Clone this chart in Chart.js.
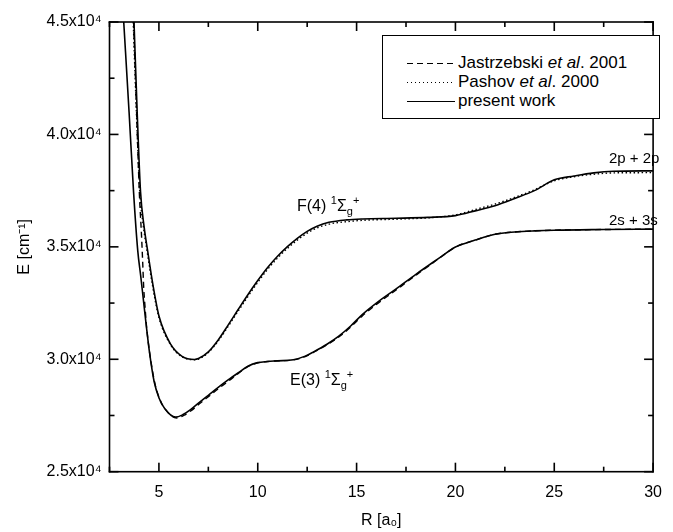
<!DOCTYPE html>
<html>
<head>
<meta charset="utf-8">
<script src="https://cdn.jsdelivr.net/npm/chart.js@4.4.1/dist/chart.umd.min.js"></script>
<style>
  body { margin: 0; background: #fff; font-family: "Liberation Sans", Arial, sans-serif; }
  #wrap { position: relative; width: 673px; height: 532px; }
  .lbl { position: absolute; font-size: 16px; color: #000; white-space: nowrap; line-height: 1; }
  .lbl sup { font-size: 11px; vertical-align: 7px; }
  .lbl sub { font-size: 11px; vertical-align: -4px; }
  #legend { position: absolute; left: 382px; top: 35px; width: 276px; height: 82px;
            border: 1px solid #000; background: #fff; font-size: 17px; }
  .row { position: absolute; left: 24px; height: 19px; line-height: 19px; white-space: nowrap; }
  .sample { display: inline-block; width: 48px; height: 1.5px; margin-right: 3px; vertical-align: middle; }
  .dash { background: repeating-linear-gradient(to right, #000 0 6px, transparent 6px 10px); }
  .dot { background: repeating-linear-gradient(to right, #000 0 1.5px, transparent 1.5px 4px); }
  .solid { background: #000; height: 1.7px; }
</style>
</head>
<body>
<div id="wrap">
  <canvas id="grafico" width="673" height="532"></canvas>
  <div id="legend">
    <div class="row" style="top:17px"><span class="sample dash"></span>Jastrzebski <i>et al</i>. 2001</div>
    <div class="row" style="top:36px"><span class="sample dot"></span>Pashov <i>et al</i>. 2000</div>
    <div class="row" style="top:55px"><span class="sample solid"></span>present work</div>
  </div>
  <div class="lbl" style="left:297px; top:195px">F(4) <sup>1</sup>&Sigma;<sub>g</sub><sup>+</sup></div>
  <div class="lbl" style="left:290px; top:369px">E(3) <sup>1</sup>&Sigma;<sub>g</sub><sup>+</sup></div>
  <div class="lbl" style="left:609px; top:150px; font-size:15px">2p + 2p</div>
  <div class="lbl" style="left:609px; top:212px; font-size:15px">2s + 3s</div>
</div>
<script>
// E(3) present work
const ePresentR = [3.22, 3.49, 3.72, 3.93, 4.08, 4.22, 4.36, 4.51, 4.76, 5.01, 5.3, 5.84, 6.2, 6.6, 7.0, 7.5, 8.0, 8.5, 9.0, 9.5, 10.0, 10.5, 11.0, 11.8, 12.4, 12.8, 13.5, 14.1, 14.7, 15.3, 16.0, 17.0, 18.0, 18.6, 19.3, 20.0, 21.0, 22.0, 23.0, 24.0, 25.0, 27.5, 30.0];
const ePresentE = [45000, 41000, 37400, 34820, 33700, 32600, 31500, 30400, 29000, 28270, 27800, 27425, 27530, 27760, 28050, 28400, 28750, 29080, 29390, 29690, 29850, 29900, 29930, 29980, 30140, 30320, 30670, 31030, 31480, 32000, 32500, 33130, 33780, 34150, 34580, 34990, 35300, 35560, 35660, 35710, 35740, 35770, 35790];
// E(3) Jastrzebski et al. 2001
const eJastR = [3.72, 3.87, 4.01, 4.12, 4.18, 4.23, 4.30, 4.38, 4.53, 4.79, 5.04, 5.33, 5.9, 6.25, 6.65, 7.05, 7.55, 8.05, 8.55, 9.0, 9.5, 10.0, 10.5, 11.0, 11.8, 12.4, 12.8, 13.5, 14.1, 14.7, 15.3, 16.0, 17.0, 18.0, 18.6, 19.3, 20.0, 21.0, 22.0, 23.0, 24.0, 25.0, 27.5, 30.0];
const eJastE = [45000, 41000, 37400, 35500, 34300, 33200, 32300, 31400, 30300, 28950, 28230, 27770, 27390, 27500, 27730, 28020, 28370, 28720, 29050, 29360, 29670, 29840, 29900, 29930, 29970, 30120, 30300, 30640, 30990, 31430, 31940, 32440, 33080, 33740, 34120, 34570, 34990, 35300, 35560, 35660, 35710, 35740, 35770, 35790];
// F(4) present work
const fPresentR = [3.74, 3.90, 4.07, 4.25, 4.43, 4.70, 5.01, 5.60, 6.17, 6.80, 7.0, 7.5, 8.0, 8.5, 9.0, 9.5, 10.0, 10.5, 11.0, 11.5, 12.0, 12.5, 13.0, 13.6, 14.5, 15.3, 17.0, 18.6, 20.0, 21.0, 22.0, 23.0, 24.0, 25.0, 26.0, 27.0, 28.0, 30.0];
const fPresentE = [45000, 41000, 37450, 35900, 34820, 33300, 31900, 30660, 30130, 29990, 30030, 30330, 30860, 31520, 32200, 32870, 33500, 34080, 34580, 35010, 35380, 35690, 35920, 36090, 36200, 36240, 36270, 36310, 36390, 36600, 36830, 37150, 37500, 37980, 38150, 38290, 38360, 38380];
// F(4) Pashov et al. 2000
const fPashovR = [3.70, 3.86, 4.03, 4.20, 4.40, 4.68, 5.0, 5.6, 6.17, 6.80, 7.0, 7.5, 8.0, 8.5, 9.0, 9.5, 10.0, 10.5, 11.0, 11.5, 12.0, 12.5, 13.0, 13.6, 14.5, 15.3, 17.0, 18.6, 20.0, 21.0, 22.0, 23.0, 24.0, 25.0, 26.0, 27.0, 28.0, 30.0];
const fPashovE = [45000, 41000, 37450, 36000, 34820, 33260, 31860, 30630, 30110, 29980, 30010, 30300, 30810, 31460, 32130, 32790, 33420, 34000, 34500, 34930, 35300, 35610, 35840, 36010, 36120, 36180, 36230, 36290, 36420, 36660, 36900, 37200, 37540, 37940, 38120, 38230, 38290, 38300];

const xMajor = 5, xMinor = 2.5;
const yMajor = 5000, yMinor = 2500;

const puntos = (rs, es) => rs.map((r, i) => ({ x: r, y: es[i] }));

function serie(label, data, dash, width) {
    return {
        label: label,
        data: data,
        borderColor: '#000',
        borderWidth: width,
        borderDash: dash,
        pointRadius: 0,
        fill: false,
        cubicInterpolationMode: 'monotone'
    };
}

const esMayor = (v, paso) => Math.abs(Math.round(v / paso) * paso - v) < 1e-6;

// marco y marcas de escala hacia dentro en los cuatro lados (con rectángulos rellenos)
const marcoPlugin = {
    id: 'marco',
    afterDraw(chart) {
        const ctx = chart.ctx;
        const a = chart.chartArea;
        const sx = chart.scales.x;
        const sy = chart.scales.y;
        const w = 1.6;
        ctx.save();
        ctx.fillStyle = '#000';
        ctx.fillRect(a.left - w / 2, a.top - w / 2, a.right - a.left + w, w);
        ctx.fillRect(a.left - w / 2, a.bottom - w / 2, a.right - a.left + w, w);
        ctx.fillRect(a.left - w / 2, a.top - w / 2, w, a.bottom - a.top + w);
        ctx.fillRect(a.right - w / 2, a.top - w / 2, w, a.bottom - a.top + w);
        for (let v = 2.5; v <= 30 + 1e-9; v += xMinor) {
            const px = sx.getPixelForValue(v);
            const len = esMayor(v, xMajor) ? 9 : 5;
            ctx.fillRect(px - w / 2, a.bottom - len, w, len);
            ctx.fillRect(px - w / 2, a.top, w, len);
        }
        for (let v = 25000; v <= 45000 + 1e-6; v += yMinor) {
            const py = sy.getPixelForValue(v);
            const len = esMayor(v, yMajor) ? 9 : 5;
            ctx.fillRect(a.left, py - w / 2, len, w);
            ctx.fillRect(a.right - len, py - w / 2, len, w);
        }
        ctx.restore();
    }
};

const fuente = { family: '"Liberation Sans", Arial, sans-serif', size: 16 };

new Chart(document.getElementById('grafico').getContext('2d'), {
    type: 'line',
    data: {
        datasets: [
            serie('Jastrzebski et al. 2001', puntos(eJastR, eJastE), [6, 4], 1.4),
            serie('Pashov et al. 2000', puntos(fPashovR, fPashovE), [1.5, 2.5], 1.4),
            serie('present work', puntos(ePresentR, ePresentE), [], 1.6),
            serie('present work F', puntos(fPresentR, fPresentE), [], 1.6)
        ]
    },
    options: {
        responsive: false,
        animation: false,
        layout: { padding: { top: 22, right: 10.7, left: 0, bottom: 0 } },
        plugins: { legend: { display: false }, tooltip: { enabled: false } },
        scales: {
            x: {
                type: 'linear',
                min: 2.5,
                max: 30,
                afterFit: s => { s.height = 60.3; },
                grid: { display: false, drawTicks: false },
                border: { display: false },
                ticks: {
                    stepSize: xMinor,
                    autoSkip: false,
                    maxRotation: 0,
                    padding: 11,
                    color: '#000',
                    font: fuente,
                    callback: v => (esMayor(v, xMajor) ? String(v) : '')
                },
                title: { display: true, text: 'R [a\u2080]', color: '#000', font: fuente, padding: { top: 0, bottom: 2 } }
            },
            y: {
                type: 'linear',
                min: 25000,
                max: 45000,
                afterFit: s => { s.width = 109.5; },
                grid: { display: false, drawTicks: false },
                border: { display: false },
                ticks: {
                    stepSize: yMinor,
                    autoSkip: false,
                    padding: 8,
                    color: '#000',
                    font: fuente,
                    callback: v => (esMayor(v, yMajor) ? (v / 10000).toFixed(1) + 'x10\u2074' : '')
                },
                title: { display: true, text: 'E [cm\u207B\u00B9]', color: '#000', font: fuente, padding: { top: 15, bottom: 0 } }
            }
        }
    },
    plugins: [marcoPlugin]
});
</script>
</body>
</html>
